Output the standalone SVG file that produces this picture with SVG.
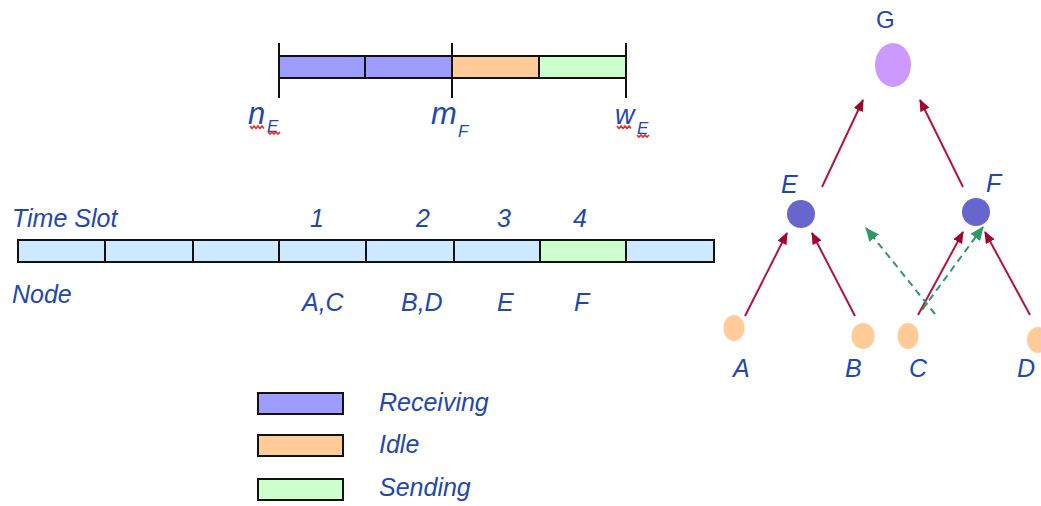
<svg xmlns="http://www.w3.org/2000/svg" width="1041" height="506" viewBox="0 0 1041 506">
  <defs>
    <marker id="redHead" viewBox="0 0 12 10" refX="11" refY="5" markerWidth="12" markerHeight="10" markerUnits="userSpaceOnUse" orient="auto">
      <path d="M0,0 L12,5 L0,10 Z" fill="#a5002e"/>
    </marker>
    <marker id="greenHead" viewBox="0 0 14 12" refX="13" refY="6" markerWidth="14" markerHeight="12" markerUnits="userSpaceOnUse" orient="auto">
      <path d="M0,0 L14,6 L0,12 Z" fill="#2e9966"/>
    </marker>
  </defs>
  <style>
    .lbl { font-family: "Liberation Sans", Arial, sans-serif; font-style: italic; font-size: 25px; fill: #2347b0; }
    .big { font-size: 31px; }
    .mid { font-size: 27px; }
    .sub { font-size: 17px; }
    .up { font-style: normal; font-size: 24px; }
    .cell { stroke: #111; stroke-width: 2; }
    .rx { fill: #9d9dff; }
    .idle { fill: #ffcc99; }
    .send { fill: #ccffcc; }
    .slot { fill: #cce9ff; }
    .tick { stroke: #111; stroke-width: 2; }
    .edge { stroke: #b0163f; stroke-width: 2; fill: none; marker-end: url(#redHead); }
    .hint { stroke: #2e9966; stroke-width: 2; stroke-dasharray: 7 5; fill: none; marker-end: url(#greenHead); }
    .squig { stroke: #ee2a2a; stroke-width: 1.6; fill: none; }
  </style>

  <!-- window of node F -->
  <g id="window">
    <rect class="cell rx" x="279" y="56" width="86" height="22"/>
    <rect class="cell rx" x="365" y="56" width="87" height="22"/>
    <rect class="cell idle" x="452" y="56" width="87" height="22"/>
    <rect class="cell send" x="539" y="56" width="87" height="22"/>
    <line class="tick" x1="279" y1="43" x2="279" y2="98"/>
    <line class="tick" x1="452" y1="43" x2="452" y2="98"/>
    <line class="tick" x1="626" y1="43" x2="626" y2="98"/>
    <text class="lbl big" x="248" y="124">n</text><text class="lbl sub" x="267" y="132">E</text>
    <path class="squig" d="M250,126 l2,2.5 l2,-2.5 l2,2.5 l2,-2.5 l2,2.5 l2,-2.5 l2,2.5 M268,132 l2,2 l2,-2 l2,2 l2,-2 l2,2 l2,-2"/>
    <text class="lbl big" x="431" y="124">m</text><text class="lbl sub" x="458" y="137">F</text>
    <text class="lbl mid" x="615" y="124">w</text><text class="lbl sub" x="637" y="134">E</text>
    <path class="squig" d="M617,126 l2,2.5 l2,-2.5 l2,2.5 l2,-2.5 l2,2.5 l2,-2.5 l2,2.5 M637,135 l2,2 l2,-2 l2,2 l2,-2 l2,2 l2,-2"/>
  </g>

  <!-- time slot schedule -->
  <g id="schedule">
    <text class="lbl" x="12" y="227">Time Slot</text>
    <text class="lbl" x="12" y="303">Node</text>
    <rect class="cell slot" x="18" y="240" width="87" height="22"/>
    <rect class="cell slot" x="105" y="240" width="88" height="22"/>
    <rect class="cell slot" x="193" y="240" width="86" height="22"/>
    <rect class="cell slot" x="279" y="240" width="87" height="22"/>
    <rect class="cell slot" x="366" y="240" width="88" height="22"/>
    <rect class="cell slot" x="454" y="240" width="86" height="22"/>
    <rect class="cell send" x="540" y="240" width="86" height="22"/>
    <rect class="cell slot" x="626" y="240" width="88" height="22"/>
    <text class="lbl" x="310" y="227">1</text>
    <text class="lbl" x="416" y="227">2</text>
    <text class="lbl" x="497" y="227">3</text>
    <text class="lbl" x="573" y="227">4</text>
    <text class="lbl" x="302" y="311">A,C</text>
    <text class="lbl" x="401" y="311">B,D</text>
    <text class="lbl" x="497" y="311">E</text>
    <text class="lbl" x="574" y="311">F</text>
  </g>

  <!-- legend -->
  <g id="legend">
    <rect class="cell rx" x="258" y="393" width="85" height="21"/>
    <rect class="cell idle" x="258" y="435" width="85" height="21"/>
    <rect class="cell send" x="258" y="479" width="85" height="21"/>
    <text class="lbl" x="379" y="411">Receiving</text>
    <text class="lbl" x="379" y="453">Idle</text>
    <text class="lbl" x="379" y="496">Sending</text>
  </g>

  <!-- tree nodes -->
  <g id="node-G">
    <ellipse cx="893" cy="65" rx="18" ry="22" fill="#cc99ff"/>
    <text class="lbl up" x="876" y="28">G</text>
  </g>
  <g id="node-E">
    <circle cx="801" cy="214" r="14" fill="#6666cc"/>
    <text class="lbl" x="781" y="193">E</text>
  </g>
  <g id="node-F">
    <circle cx="976" cy="212" r="14" fill="#6666cc"/>
    <text class="lbl" x="986" y="192">F</text>
  </g>
  <g id="node-A">
    <ellipse cx="734" cy="328" rx="10.5" ry="13" fill="#ffcc99"/>
    <text class="lbl" x="733" y="377">A</text>
  </g>
  <g id="node-B">
    <ellipse cx="863" cy="336" rx="11.5" ry="13" fill="#ffcc99"/>
    <text class="lbl" x="845" y="377">B</text>
  </g>
  <g id="node-C">
    <ellipse cx="908" cy="336" rx="10.5" ry="13" fill="#ffcc99"/>
    <text class="lbl" x="909" y="377">C</text>
  </g>
  <g id="node-D">
    <ellipse cx="1038" cy="340" rx="11" ry="13" fill="#ffcc99"/>
    <text class="lbl" x="1017" y="377">D</text>
  </g>

  <!-- connectors -->
  <g id="connectors">
    <line class="edge" x1="822" y1="187" x2="863" y2="100"/>
    <line class="edge" x1="963" y1="187" x2="920" y2="100"/>
    <line class="edge" x1="745" y1="316" x2="787" y2="233"/>
    <line class="edge" x1="855" y1="316" x2="812" y2="233"/>
    <line class="edge" x1="918" y1="315" x2="963" y2="232"/>
    <line class="edge" x1="1030" y1="315" x2="985" y2="232"/>
    <line class="hint" x1="935" y1="314" x2="866" y2="228"/>
    <line class="hint" x1="922" y1="310" x2="983" y2="227"/>
  </g>
</svg>
